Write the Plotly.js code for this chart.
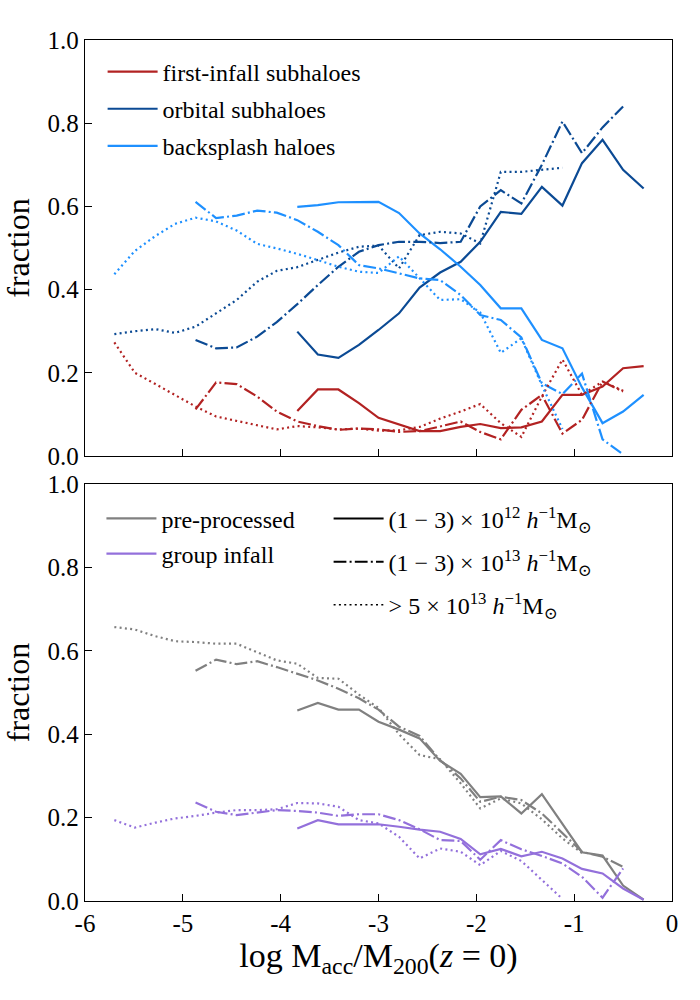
<!DOCTYPE html>
<html>
<head>
<meta charset="utf-8">
<script src="https://cdn.plot.ly/plotly-3.0.1.min.js"></script>
<style>html,body{margin:0;padding:0;background:#fff;}#chart{width:700px;height:1000px;}</style>
</head>
<body>
<div id="chart"></div>
<script>
// log M_acc / M_200(z=0) bin centres
const logM = [-5.70, -5.49, -5.28, -5.08, -4.87, -4.66, -4.45, -4.24, -4.04, -3.83, -3.62, -3.41, -3.20, -3.00, -2.79, -2.58, -2.37, -2.16, -1.96, -1.75, -1.54, -1.33, -1.12, -0.92, -0.71, -0.50, -0.29];
const xTicks = [-6, -5, -4, -3, -2, -1, 0];
const xTickText = ["-6", "-5", "-4", "-3", "-2", "-1", "0"];
const yTicks = [0, 0.2, 0.4, 0.6, 0.8, 1.0];
const yTickText = ["0.0", "0.2", "0.4", "0.6", "0.8", "1.0"];

// top panel: first-infall subhaloes
const firstSolid = [0.108, 0.160, 0.160, 0.127, 0.092, 0.076, 0.060, 0.060, 0.070, 0.077, 0.067, 0.069, 0.083, 0.147, 0.147, 0.167, 0.211, 0.216];
const firstDash = [0.112, 0.177, 0.173, 0.143, 0.107, 0.083, 0.072, 0.063, 0.066, 0.064, 0.058, 0.060, 0.071, 0.083, 0.058, 0.040, 0.111, 0.147, 0.054, 0.087, 0.179, 0.155];
const firstDot = [0.273, 0.200, 0.173, 0.147, 0.119, 0.095, 0.085, 0.075, 0.064, 0.072, 0.069, 0.064, 0.066, 0.061, 0.062, 0.070, 0.090, 0.107, 0.125, 0.079, 0.046, 0.143, 0.232, 0.147, 0.179, 0.157];
// orbital subhaloes
const orbSolid = [0.299, 0.244, 0.236, 0.267, 0.303, 0.343, 0.405, 0.441, 0.467, 0.515, 0.587, 0.582, 0.647, 0.602, 0.704, 0.760, 0.688, 0.643];
const orbDash = [0.279, 0.259, 0.261, 0.287, 0.322, 0.365, 0.411, 0.455, 0.491, 0.507, 0.515, 0.515, 0.512, 0.515, 0.600, 0.639, 0.607, 0.700, 0.804, 0.728, 0.790, 0.840];
const orbDot = [0.293, 0.300, 0.305, 0.296, 0.311, 0.343, 0.375, 0.419, 0.445, 0.454, 0.471, 0.489, 0.503, 0.506, 0.451, 0.531, 0.539, 0.535, 0.511, 0.683, 0.683, 0.688, 0.693];
// backsplash haloes
const backSolid = [0.599, 0.603, 0.610, 0.611, 0.611, 0.584, 0.535, 0.497, 0.455, 0.411, 0.355, 0.355, 0.279, 0.259, 0.165, 0.079, 0.107, 0.147];
const backDash = [0.611, 0.572, 0.578, 0.590, 0.585, 0.567, 0.539, 0.507, 0.459, 0.451, 0.439, 0.427, 0.423, 0.387, 0.339, 0.327, 0.285, 0.175, 0.149, 0.198, 0.040, 0.004];
const backDot = [0.437, 0.493, 0.529, 0.558, 0.573, 0.564, 0.542, 0.510, 0.499, 0.486, 0.471, 0.455, 0.443, 0.440, 0.480, 0.428, 0.375, 0.377, 0.345, 0.248, 0.283, 0.170, 0.065];

// bottom panel: pre-processed
const preSolid = [0.457, 0.475, 0.459, 0.459, 0.430, 0.411, 0.390, 0.336, 0.305, 0.249, 0.251, 0.210, 0.256, 0.185, 0.117, 0.109, 0.037, 0.003];
const preDash = [0.552, 0.579, 0.568, 0.575, 0.561, 0.545, 0.529, 0.509, 0.486, 0.459, 0.418, 0.396, 0.338, 0.294, 0.238, 0.250, 0.242, 0.210, 0.162, 0.118, 0.106, 0.082];
const preDot = [0.657, 0.651, 0.635, 0.623, 0.621, 0.617, 0.617, 0.597, 0.577, 0.569, 0.535, 0.533, 0.495, 0.463, 0.400, 0.350, 0.340, 0.282, 0.222, 0.246, 0.234, 0.196, 0.150, 0.115];
// group infall
const grpSolid = [0.174, 0.194, 0.184, 0.184, 0.184, 0.178, 0.171, 0.166, 0.149, 0.112, 0.125, 0.107, 0.118, 0.102, 0.077, 0.066, 0.030, 0.003];
const grpDash = [0.236, 0.214, 0.206, 0.212, 0.218, 0.216, 0.212, 0.204, 0.208, 0.208, 0.194, 0.172, 0.146, 0.144, 0.099, 0.146, 0.124, 0.108, 0.090, 0.058, 0.008, 0.078];
const grpDot = [0.194, 0.176, 0.188, 0.198, 0.204, 0.212, 0.218, 0.218, 0.220, 0.235, 0.234, 0.226, 0.194, 0.186, 0.154, 0.102, 0.126, 0.118, 0.086, 0.120, 0.096, 0.050, 0.005];

const massLabels = [
  "(1 \u2212 3) \u00d7 10<sup>12</sup> <i>h</i><sup>\u22121</sup>M<sub>\u2299</sub>",
  "(1 \u2212 3) \u00d7 10<sup>13</sup> <i>h</i><sup>\u22121</sup>M<sub>\u2299</sub>",
  "> 5 \u00d7 10<sup>13</sup> <i>h</i><sup>\u22121</sup>M<sub>\u2299</sub>"
];

const C_RED = "#b22222", C_ORB = "#0b4a94", C_BACK = "#1e90ff", C_GRAY = "#808080", C_PURP = "#9370db";
const DASHDOT = "12.8px,3.2px,2px,3.2px";
const DOT = "2px,3.3px";
const LW = 2.2;
const FONT = "'Liberation Serif', 'DejaVu Serif', 'Times New Roman', serif";

function xsFor(kind, n) {
  if (kind === "solid") return logM.slice(27 - n);
  if (kind === "dash") return logM.slice(4, 4 + n);
  return logM.slice(0, n);
}
function tr(vals, kind, color, axis, opts) {
  const dash = kind === "solid" ? "solid" : (kind === "dash" ? DASHDOT : DOT);
  return Object.assign({
    type: "scatter", mode: "lines",
    x: xsFor(kind, vals.length), y: vals,
    xaxis: axis === 1 ? "x" : "x2", yaxis: axis === 1 ? "y" : "y2",
    line: {color: color, width: LW, dash: dash},
    showlegend: false, hoverinfo: "skip"
  }, opts || {});
}

const data = [
  tr(firstSolid, "solid", C_RED, 1, {name: "first-infall subhaloes", showlegend: true, legend: "legend", legendgroup: "a1"}),
  tr(orbSolid, "solid", C_ORB, 1, {name: "orbital subhaloes", showlegend: true, legend: "legend", legendgroup: "a2"}),
  tr(backSolid, "solid", C_BACK, 1, {name: "backsplash haloes", showlegend: true, legend: "legend", legendgroup: "a3"}),
  tr(firstDash, "dash", C_RED, 1), tr(orbDash, "dash", C_ORB, 1), tr(backDash, "dash", C_BACK, 1),
  tr(firstDot, "dot", C_RED, 1), tr(orbDot, "dot", C_ORB, 1), tr(backDot, "dot", C_BACK, 1),
  tr(preSolid, "solid", C_GRAY, 2, {name: "pre-processed", showlegend: true, legend: "legend2", legendgroup: "b1"}),
  tr(grpSolid, "solid", C_PURP, 2, {name: "group infall", showlegend: true, legend: "legend2", legendgroup: "b2"}),
  tr(preDash, "dash", C_GRAY, 2), tr(grpDash, "dash", C_PURP, 2),
  tr(preDot, "dot", C_GRAY, 2), tr(grpDot, "dot", C_PURP, 2),
  {type: "scatter", mode: "lines", x: [null], y: [null], xaxis: "x2", yaxis: "y2", name: massLabels[0], line: {color: "black", width: 2, dash: "solid"}, legend: "legend3", legendgroup: "c1"},
  {type: "scatter", mode: "lines", x: [null], y: [null], xaxis: "x2", yaxis: "y2", name: massLabels[1], line: {color: "black", width: 2, dash: DASHDOT}, legend: "legend3", legendgroup: "c2"},
  {type: "scatter", mode: "lines", x: [null], y: [null], xaxis: "x2", yaxis: "y2", name: massLabels[2], line: {color: "black", width: 1.5, dash: DOT}, legend: "legend3", legendgroup: "c3"}
];

const axCommon = {
  showline: true, mirror: true, linecolor: "black", linewidth: 1.3,
  ticks: "inside", ticklen: 7, tickwidth: 1.2, tickcolor: "black",
  showgrid: false, zeroline: false, automargin: false,
  tickfont: {family: FONT, size: 25, color: "black"}
};
const legCommon = {bgcolor: "rgba(0,0,0,0)", borderwidth: 0, xref: "paper", yref: "paper",
  xanchor: "left", yanchor: "top", font: {family: FONT, size: 24, color: "black"}, tracegroupgap: 1, itemwidth: 50};

const layout = {
  width: 700, height: 1000,
  margin: {l: 85, r: 28, t: 40, b: 99},
  paper_bgcolor: "white", plot_bgcolor: "white",
  font: {family: FONT, color: "black"},
  xaxis: Object.assign({}, axCommon, {domain: [0, 1], range: [-6, 0], anchor: "y", tickvals: xTicks, ticktext: xTickText, showticklabels: false, matches: "x2"}),
  xaxis2: Object.assign({}, axCommon, {domain: [0, 1], range: [-6, 0], anchor: "y2", tickvals: xTicks, ticktext: xTickText, automargin: true,
    title: {text: "log M<sub>acc</sub>/M<sub>200</sub>(<i>z</i> = 0)", font: {family: FONT, size: 34, color: "black"}, standoff: 6}}),
  yaxis: Object.assign({}, axCommon, {domain: [0.5168, 1], range: [0, 1], anchor: "x", tickvals: yTicks, ticktext: yTickText,
    title: {text: "fraction", font: {family: FONT, size: 32, color: "black"}, standoff: 10}}),
  yaxis2: Object.assign({}, axCommon, {domain: [0, 0.4843], range: [0, 1], anchor: "x2", tickvals: yTicks, ticktext: yTickText,
    title: {text: "fraction", font: {family: FONT, size: 32, color: "black"}, standoff: 10}}),
  legend: Object.assign({}, legCommon, {x: 0.03, y: 0.989, tracegroupgap: 3}),
  legend2: Object.assign({}, legCommon, {x: 0.028, y: 0.470}),
  legend3: Object.assign({}, legCommon, {x: 0.415, y: 0.470, tracegroupgap: 9})
};

Plotly.newPlot("chart", data, layout, {displayModeBar: false, staticPlot: true});
</script>
</body>
</html>
